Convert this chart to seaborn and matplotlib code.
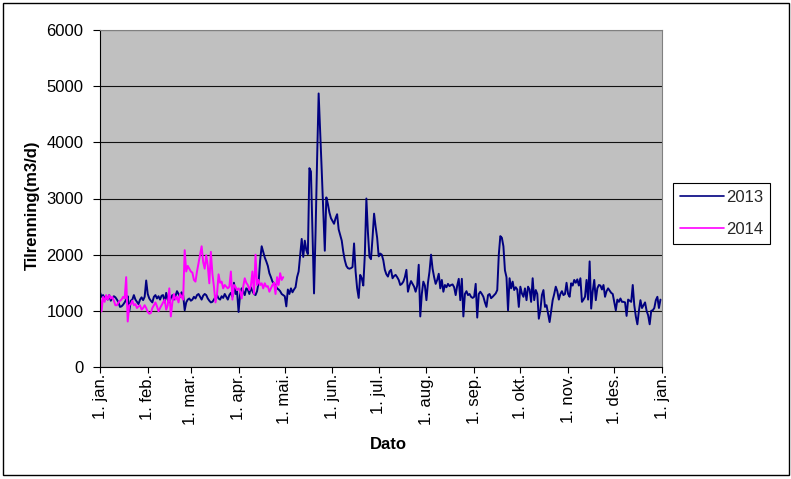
import matplotlib
matplotlib.use("Agg")
import matplotlib.pyplot as plt
import numpy as np
import pandas as pd
import seaborn as sns
from matplotlib.patches import Rectangle

# ---------------- data (daily inflow, m3/d) ----------------
flow_2013_jan = [1330, 1250, 1280, 1220, 1260, 1200, 1280, 1180, 1230, 1260, 1240, 1200, 1150, 1070, 1080, 1110,
                 1150, 1200, 1260, 990, 1180, 1200, 1280, 1200, 1160, 1120, 1200, 1240, 1190, 1250, 1540]
flow_2013_feb = [1300, 1220, 1180, 1150, 1250, 1280, 1220, 1260, 1200, 1270, 1280, 1150, 1320, 1200, 1150, 1230,
                 1280, 1200, 1260, 1350, 1300, 1250, 1330, 1280, 1010, 1150, 1200, 1220]
flow_2013_mar = [1180, 1200, 1250, 1220, 1280, 1300, 1250, 1200, 1270, 1300, 1280, 1220, 1180, 1150, 1160, 1200,
                 1250, 1280, 1220, 1200, 1260, 1230, 1300, 1250, 1200, 1280, 1320, 1250, 1500, 1300, 1350]
flow_2013_apr = [980, 1300, 1400, 1350, 1280, 1400, 1380, 1300, 1420, 1350, 1300, 1280, 1350, 1500, 1900, 2150,
                 2050, 1950, 1880, 1800, 1670, 1600, 1520, 1490, 1450, 1400, 1380, 1350, 1300, 1280]
flow_2013_may = [1260, 1080, 1380, 1300, 1400, 1330, 1380, 1420, 1600, 1700, 2000, 2280, 1960, 2250, 2080, 2010,
                 3540, 3480, 2400, 1310, 2400, 3700, 4870, 4200, 3500, 2800, 2070, 3020, 2900, 2750, 2650]
flow_2013_jun = [2600, 2550, 2650, 2720, 2450, 2350, 2250, 2050, 1900, 1800, 1760, 1750, 1760, 1780, 2200, 1700,
                 1400, 1230, 1640, 1580, 1450, 2000, 3000, 2400, 1960, 1920, 2300, 2730, 2500, 2300]
flow_2013_jul = [1970, 2020, 2000, 1900, 1730, 1650, 1610, 1700, 1730, 1580, 1620, 1640, 1600, 1550, 1460, 1480,
                 1520, 1600, 1730, 1340, 1450, 1530, 1480, 1430, 1340, 1450, 1820, 900, 1300, 1520, 1450]
flow_2013_aug = [1190, 1500, 1700, 2000, 1750, 1600, 1480, 1550, 1660, 1400, 1550, 1340, 1460, 1420, 1480, 1440,
                 1460, 1470, 1420, 1280, 1450, 1570, 1190, 1570, 900, 1300, 1350, 1280, 1300, 1250, 1230]
flow_2013_sep = [1250, 1480, 880, 1300, 1340, 1300, 1250, 1150, 1070, 1280, 1300, 1225, 1250, 1280, 1310, 1370,
                 2000, 2330, 2300, 2150, 1720, 1600, 1010, 1580, 1400, 1520, 1370, 1420, 1380, 1070]
flow_2013_oct = [1430, 1310, 1250, 1400, 1190, 1430, 1380, 1160, 1580, 1190, 1370, 1300, 860, 1010, 1280, 1370,
                 1070, 1100, 950, 800, 1000, 1190, 1300, 1430, 1350, 1200, 1300, 1350, 1280, 1300, 1500]
flow_2013_nov = [1300, 1250, 1490, 1450, 1550, 1500, 1560, 1450, 1580, 1160, 1200, 1250, 1550, 1200, 1880, 1040,
                 1350, 1550, 1190, 1400, 1460, 1450, 1380, 1460, 1250, 1350, 1400, 1360, 1320, 1300]
flow_2013_dec = [1160, 1010, 1200, 1160, 1220, 1160, 1160, 1150, 910, 1200, 1180, 1160, 1460, 1100, 900, 760,
                 1000, 1190, 1050, 1100, 1150, 1000, 920, 760, 1000, 1010, 1050, 1190, 1250, 1050, 1200]

flow_2014_jan = [1250, 990, 1250, 1160, 1280, 1200, 1280, 1220, 1250, 1180, 1100, 1100, 1150, 1180, 1200, 1250,
                 1220, 1600, 810, 1100, 1120, 1180, 1100, 1120, 1050, 1080, 1100, 1020, 1050, 1100, 1050]
flow_2014_feb = [980, 950, 960, 1050, 1100, 1150, 1080, 990, 1050, 1100, 1150, 1200, 1020, 1100, 1400, 900,
                 1150, 1300, 1200, 1250, 1150, 1300, 1250, 1200, 2080, 1700, 1800, 1750]
flow_2014_mar = [1700, 1680, 1550, 1520, 1700, 1850, 2000, 2150, 1870, 1750, 1990, 1800, 1490, 2050, 1660, 1430,
                 1150, 1300, 1650, 1500, 1520, 1400, 1460, 1430, 1400, 1430, 1700, 1200, 1460, 1430, 1370]
flow_2014_apr = [1400, 1350, 1220, 1430, 1580, 1500, 1460, 1370, 1450, 1700, 1300, 2000, 1460, 1550, 1460, 1490,
                 1400, 1490, 1430, 1440, 1340, 1400, 1460, 1500, 1300, 1600, 1460, 1670, 1550, 1600]

series_labels = ["2013", "2014"]
series_colors = ["#000080", "#FF00FF"]
month_ticks = ["2013-01-01", "2013-02-01", "2013-03-01", "2013-04-01", "2013-05-01", "2013-06-01",
               "2013-07-01", "2013-08-01", "2013-09-01", "2013-10-01", "2013-11-01", "2013-12-01",
               "2014-01-01"]
month_labels = ["1. jan.", "1. feb.", "1. mar.", "1. apr.", "1. mai.", "1. jun.", "1. jul.",
                "1. aug.", "1. sep.", "1. okt.", "1. nov.", "1. des.", "1. jan."]
y_ticks = [0, 1000, 2000, 3000, 4000, 5000, 6000]

flow_2013 = (flow_2013_jan + flow_2013_feb + flow_2013_mar + flow_2013_apr + flow_2013_may + flow_2013_jun +
             flow_2013_jul + flow_2013_aug + flow_2013_sep + flow_2013_oct + flow_2013_nov + flow_2013_dec)
flow_2014 = flow_2014_jan + flow_2014_feb + flow_2014_mar + flow_2014_apr

days = pd.date_range("2013-01-01", periods=len(flow_2013), freq="D")
df = pd.concat([
    pd.DataFrame({"Dato": days, "Tilrenning": flow_2013, "År": series_labels[0]}),
    pd.DataFrame({"Dato": days[:len(flow_2014)], "Tilrenning": flow_2014, "År": series_labels[1]}),
], ignore_index=True)

# ---------------- plot ----------------
sns.set_theme(style="white")
plt.rcParams["font.family"] = ["Liberation Sans", "DejaVu Sans"]

W, H = 791, 479
fig = plt.figure(figsize=(W / 100, H / 100), dpi=100)
fig.patch.set_facecolor("white")
ax = fig.add_axes([100 / W, 1 - 367 / H, 562 / W, 337 / H])

sns.lineplot(data=df, x="Dato", y="Tilrenning", hue="År",
             palette=dict(zip(series_labels, series_colors)),
             linewidth=1.4, estimator=None, ax=ax)

ax.set_facecolor("#C0C0C0")
ax.set_ylim(0, 6000)
ax.set_yticks(y_ticks)
ax.set_xlim(pd.Timestamp(month_ticks[0]), pd.Timestamp(month_ticks[-1]))
ax.set_xticks(pd.to_datetime(month_ticks))
ax.set_xticklabels(month_labels, rotation=90)
ax.grid(axis="y", color="#111111", linewidth=0.8)
ax.grid(axis="x", visible=False)
ax.set_axisbelow(True)

for side in ["top", "right"]:
    ax.spines[side].set_color("#808080")
    ax.spines[side].set_linewidth(0.8)
for side in ["left", "bottom"]:
    ax.spines[side].set_color("black")
    ax.spines[side].set_linewidth(0.8)

ax.tick_params(axis="y", left=True, direction="out", length=5, width=0.8, pad=7,
               labelsize=12, colors="black")
ax.tick_params(axis="x", bottom=True, direction="out", length=4, width=0.8, pad=1,
               labelsize=12, colors="black")

ax.set_ylabel("Tilrenning(m3/d)", fontsize=12, fontweight="bold", color="black")
ax.yaxis.set_label_coords(-0.107, 0.48)
ax.set_xlabel("Dato", fontsize=12, fontweight="bold", color="black")
ax.xaxis.set_label_coords(0.5125, -0.209)

handles, labels = ax.get_legend_handles_labels()
leg = ax.legend(handles, labels, loc="upper left", bbox_to_anchor=(673 / W, 1 - 182.7 / H),
                bbox_transform=fig.transFigure, fontsize=12, frameon=True, fancybox=False,
                framealpha=1, edgecolor="black", borderpad=0.41, labelspacing=1.03,
                handlelength=2.66, handletextpad=0.1, borderaxespad=0)
leg.get_frame().set_linewidth(0.8)
for line in leg.get_lines():
    line.set_linewidth(1.2)

fig.patches.append(Rectangle((2.5 / W, 1 - 474.5 / H), 786 / W, 472 / H, transform=fig.transFigure,
                             fill=False, edgecolor="black", linewidth=1.0))

fig.savefig("out.png", dpi=100)
